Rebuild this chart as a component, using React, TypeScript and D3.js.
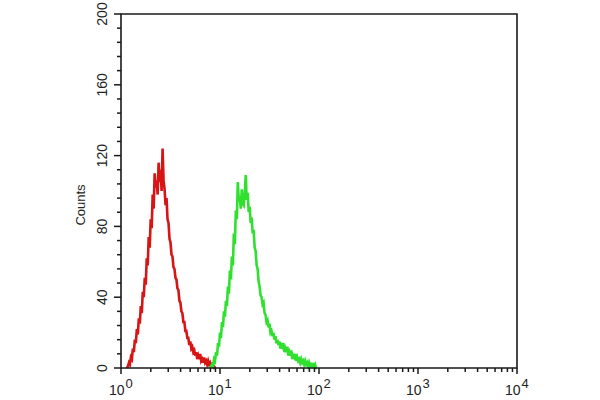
import React from "react";
import * as d3 from "d3";

// Histogram counts, bins of 0.01 decade in log10(fluorescence)
const redStartLog = 0.06;
const redCounts = [
  0, 1, 3, 2, 6, 5, 11, 9, 16, 14, 22, 19, 28, 25, 35, 31, 43, 40, 51, 47,
  62, 58, 74, 68, 84, 79, 98, 90, 110, 102, 106, 98, 116, 105, 112, 100, 124, 106, 101, 92,
  96, 84, 82, 73, 71, 64, 63, 57, 56, 51, 50, 45, 44, 38, 37, 32, 31, 26, 26, 21,
  21, 17, 17, 13, 15, 11, 12, 9, 10, 7, 9, 5, 7, 5, 8, 4, 5, 3, 6, 3,
  4, 2, 4, 2, 3, 1, 2, 1, 1, 0, 0,
];
const greenStartLog = 0.9;
const greenCounts = [
  0, 1, 2, 1, 5, 4, 9, 7, 14, 12, 20, 17, 26, 23, 32, 29, 38, 35, 46, 42,
  55, 50, 63, 58, 76, 70, 89, 84, 105, 94, 97, 90, 101, 93, 92, 99, 109, 95, 99, 88,
  91, 82, 85, 76, 78, 68, 66, 58, 56, 49, 46, 41, 40, 36, 37, 31, 30, 26, 27, 23,
  25, 20, 21, 18, 20, 16, 18, 14, 16, 13, 15, 11, 13, 12, 14, 9, 11, 9, 12, 7,
  9, 7, 10, 5, 7, 6, 8, 4, 6, 4, 5, 3, 5, 3, 4, 2, 4, 2, 3, 1,
  3, 1, 2, 1, 2, 1, 2, 0, 0,
];
const binStep = 0.01;

const yMajorTicks = [0, 40, 80, 120, 160, 200];
const xDecades = [0, 1, 2, 3, 4];

const W = 600;
const H = 400;
const left = 121;
const right = 517;
const top = 14;
const bottom = 368;
const FONT = "Arial, 'Liberation Sans', sans-serif";

export default function App() {
  const x = d3.scaleLog().domain([1, 10000]).range([left, right]);
  const y = d3.scaleLinear().domain([0, 200]).range([bottom, top]);

  const toPts = (start: number, counts: number[]) =>
    counts.map((c, i) => [Math.pow(10, start + i * binStep), c] as [number, number]);

  const line = d3
    .line<[number, number]>()
    .x((d) => x(d[0]))
    .y((d) => y(d[1]));

  const yMinor = d3.range(0, 201, 8).filter((v) => v % 40 !== 0);
  const xMinor: number[] = [];
  for (let dec = 0; dec < 4; dec++) {
    for (let m = 2; m <= 9; m++) xMinor.push(m * Math.pow(10, dec));
  }

  return (
    <svg
      width={W}
      height={H}
      style={{ position: "absolute", left: 0, top: 0, background: "#fff" }}
    >
      <rect x={0} y={0} width={W} height={H} fill="#fff" />
      {/* curves */}
      <path
        d={line(toPts(redStartLog, redCounts)) || ""}
        fill="none"
        stroke="#d81414"
        strokeWidth={2.6}
      />
      <path
        d={line(toPts(greenStartLog, greenCounts)) || ""}
        fill="none"
        stroke="#2fe02f"
        strokeWidth={2.6}
      />
      {/* frame */}
      <path
        d={`M${left},${bottom}V${top}H${right}V${bottom}Z`}
        fill="none"
        stroke="#1a1a1a"
        strokeWidth={1.6}
      />
      {/* y ticks */}
      {yMajorTicks.map((t) => (
        <g key={"ym" + t}>
          <line x1={left - 7} x2={left} y1={y(t)} y2={y(t)} stroke="#1a1a1a" strokeWidth={1.5} />
          <text
            transform={`translate(${left - 14},${y(t)}) rotate(-90)`}
            textAnchor="middle"
            fontFamily={FONT}
            fontSize={14}
            fill="#222"
          >
            {t}
          </text>
        </g>
      ))}
      {yMinor.map((t) => (
        <line key={"yn" + t} x1={left - 4} x2={left} y1={y(t)} y2={y(t)} stroke="#1a1a1a" strokeWidth={1.5} />
      ))}
      <text
        transform={`translate(85,${(top + bottom) / 2 + 14}) rotate(-90)`}
        textAnchor="middle"
        fontFamily={FONT}
        fontSize={13}
        fill="#222"
      >
        Counts
      </text>
      {/* x ticks */}
      {xDecades.map((d) => {
        const px = x(Math.pow(10, d));
        return (
          <g key={"xd" + d}>
            <line x1={px} x2={px} y1={bottom} y2={bottom + 6} stroke="#1a1a1a" strokeWidth={1.5} />
            <text x={px - 12} y={395} fontFamily={FONT} fontSize={14} fill="#222">
              10
              <tspan dx={1} dy={-7} fontSize={13}>
                {d}
              </tspan>
            </text>
          </g>
        );
      })}
      {xMinor.map((v) => (
        <line key={"xn" + v} x1={x(v)} x2={x(v)} y1={bottom} y2={bottom + 4} stroke="#1a1a1a" strokeWidth={1.5} />
      ))}
    </svg>
  );
}
